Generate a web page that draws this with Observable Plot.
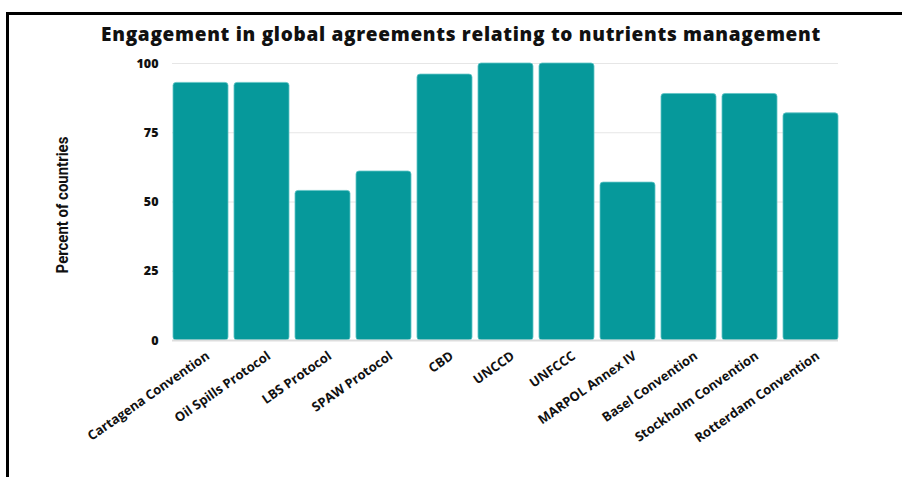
<!DOCTYPE html>
<html>
<head>
<meta charset="utf-8">
<script src="https://cdn.jsdelivr.net/npm/d3@7"></script>
<script src="https://cdn.jsdelivr.net/npm/@observablehq/plot@0.6"></script>
<style>
  body { margin: 0; background: #fff; }
  #wrap { position: relative; width: 902px; height: 477px; overflow: hidden; font-family: "Open Sans", Lato, sans-serif; }
  #frame { position: absolute; left: 6px; top: 12px; width: 910px; height: 480px; border-top: 3px solid #000; border-left: 3px solid #000; box-sizing: border-box; }
  #title { position: absolute; left: 0; width: 922px; top: 21px; text-align: center; font-size: 19px; font-weight: 800; letter-spacing: 0.7px; color: #111; }
  #ylab { position: absolute; left: 62px; top: 205px; transform: translate(-50%, -50%) rotate(-90deg) scaleX(0.88); font-family: "Liberation Sans Narrow", Roboto, sans-serif; font-weight: 700; font-size: 17px; white-space: nowrap; color: #111; }
  #chart { position: absolute; left: 0; top: 0; }
</style>
</head>
<body>
<div id="wrap">
  <div id="frame"></div>
  <div id="title">Engagement in global agreements relating to nutrients management</div>
  <div id="ylab">Percent of countries</div>
  <div id="chart"></div>
</div>
<script>
const agreements = ["Cartagena Convention", "Oil Spills Protocol", "LBS Protocol", "SPAW Protocol", "CBD", "UNCCD", "UNFCCC", "MARPOL Annex IV", "Basel Convention", "Stockholm Convention", "Rotterdam Convention"];
const percents = [93, 93, 54, 61, 96, 100, 100, 57, 89, 89, 82];
const yTicks = [0, 25, 50, 75, 100];

const data = agreements.map((a, i) => ({agreement: a, value: percents[i]}));

const chart = Plot.plot({
  width: 902,
  height: 477,
  marginTop: 63,
  marginBottom: 137,
  marginLeft: 172,
  marginRight: 64,
  style: {fontFamily: "'Open Sans', Lato, sans-serif", fontSize: "12px", fontWeight: 700, color: "#111", background: "transparent"},
  x: {domain: agreements, paddingInner: 0.1, paddingOuter: 0, label: null},
  y: {domain: [0, 100], label: null},
  marks: [
    Plot.gridY(yTicks, {stroke: "#e6e6e6", strokeOpacity: 1}),
    Plot.barY(data, {x: "agreement", y: "value", fill: "#06999b", stroke: "#5fc4c5", strokeWidth: 0.8, rx: 3}),
    Plot.ruleY([0], {stroke: "#dddddd", strokeWidth: 2}),
    Plot.axisY(yTicks, {tickSize: 0, tickPadding: 14, fontSize: 12.5, fontWeight: 800, label: null}),
    Plot.axisX({tickSize: 0, tickRotate: -35, tickPadding: 14, dx: 7, fontSize: 13, fontWeight: 700, label: null})
  ]
});
document.getElementById("chart").appendChild(chart);
</script>
</body>
</html>
